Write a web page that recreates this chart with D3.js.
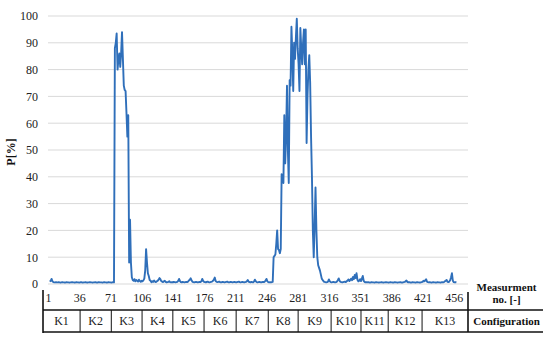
<!DOCTYPE html>
<html><head><meta charset="utf-8">
<script src="https://cdn.jsdelivr.net/npm/d3@7"></script>
<style>body{margin:0;background:#fff}svg{display:block}</style>
</head><body>
<svg id="c" width="550" height="343"></svg>
<script>
// ---- data ----
const firstMeasurement = 3;
const pValues = [
 0.9,1.2,1.9,1.0,0.7,0.6,0.6,0.7,
 0.6,0.6,0.7,0.6,0.5,0.6,0.7,0.6,0.6,0.5,
 0.6,0.7,0.6,0.6,0.5,0.6,0.6,0.7,0.6,0.6,
 0.5,0.6,0.7,0.6,0.6,0.5,0.6,0.7,0.6,0.5,
 0.6,0.6,0.7,0.6,0.5,0.6,0.6,0.7,0.6,0.6,
 0.5,0.6,0.6,0.7,0.6,0.5,0.6,0.7,0.6,0.6,
 0.6,0.5,0.6,0.7,0.6,0.6,0.5,0.6,0.7,0.6,
 0.6,0.5,0.6,0.7,0.6,
 88,90,93.5,80,84,86,81,86,94,84,
 74,72.4,72,63.8,55,63,8,24,8,2.5,
 1.5,1.2,1.8,1.0,1.5,1.2,0.9,1.6,1.1,0.8,
 1.2,1.0,1.4,2.0,5,13,8,4,3,1.5,
 1.2,0.7,1.0,0.8,1.3,0.9,0.7,1.0,1.2,1.6,
 2.2,1.8,1.1,0.9,0.7,1.0,1.2,0.8,0.6,0.7,
 0.8,1.0,0.7,0.6,0.7,0.6,0.8,0.7,0.6,0.7,
 0.8,1.2,1.9,1.1,0.7,0.6,0.8,0.7,0.6,0.7,
 0.8,0.7,0.9,1.3,1.6,2.1,1.4,0.8,0.7,0.6,
 0.7,0.8,0.7,0.6,0.7,0.8,0.7,1.0,1.9,1.2,
 0.8,0.7,0.6,0.8,0.9,0.7,0.6,0.7,0.8,0.9,
 1.2,1.6,2.4,1.1,0.8,0.7,0.8,0.9,0.7,0.6,
 0.7,0.8,0.7,0.6,0.7,0.8,0.9,0.7,0.6,0.7,
 0.8,0.7,0.6,0.7,0.8,0.7,0.6,0.7,0.8,0.9,
 0.7,0.6,0.7,0.8,0.7,0.6,0.7,0.8,1.0,1.5,
 0.9,0.7,0.6,0.8,0.7,0.6,0.9,1.6,1.0,0.7,
 0.6,0.7,0.8,0.7,0.6,0.7,0.8,0.7,0.9,1.3,
 1.9,1.0,0.7,0.6,0.7,0.6,0.7,0.8,
 10,10.5,11,15,20,13,12.7,11.5,13,41,
 39,37.7,63,45,55,74,50,37.7,76,74,
 96,86,72,90,84,92,99,88,82,72,
 95.5,88,82,90,95,82,95,52.6,70,80,
 85.4,75,55,40,20,10,22,36,20,10,
 7,6,5,3.5,2,1.5,1.0,0.8,0.7,0.6,
 0.7,0.9,1.7,1.0,0.7,0.6,0.7,0.8,0.7,0.6,
 0.7,0.9,1.4,2.1,1.2,0.8,0.7,0.6,0.7,0.8,
 0.9,0.7,1.0,1.3,1.7,1.1,1.5,2.0,1.4,2.6,
 1.8,3.4,2.2,4.0,1.6,1.0,1.2,1.8,1.1,2.0,
 3.0,1.2,0.8,0.6,0.7,0.6,0.7,0.6,0.5,0.6,
 0.7,0.6,0.6,0.5,0.6,0.7,0.6,0.6,0.5,0.6,
 0.6,0.7,0.6,0.5,0.6,0.6,0.7,0.6,0.6,0.5,
 0.6,0.7,0.6,0.6,0.5,0.6,0.7,0.6,0.6,0.5,
 0.6,0.6,0.7,0.6,0.5,0.6,0.7,0.8,1.0,1.3,
 0.8,0.6,0.7,0.6,0.5,0.6,0.7,0.6,0.6,0.5,
 0.6,0.7,0.6,0.6,0.5,0.6,0.7,0.8,1.2,1.0,
 1.3,1.8,0.9,0.7,0.6,0.7,0.6,0.5,0.6,0.7,
 0.6,0.6,0.5,0.6,0.7,0.6,0.6,0.5,0.6,0.7,
 0.6,0.7,1.0,1.2,1.5,0.8,0.7,0.9,1.4,2.5,
 4.0,1.2,0.7,0.6,0.7,0.6
];
const xTickLabels = [1,36,71,106,141,176,211,246,281,316,351,386,421,456];
const yTickLabels = [0,10,20,30,40,50,60,70,80,90,100];
const configNames = ["K1","K2","K3","K4","K5","K6","K7","K8","K9","K10","K11","K12","K13"];
const configBounds = [-4.6,37,72,106.5,141,176,212,248,281.5,318.5,352,382.5,420.5,472];
const yTitle = "P[%]";
const xTitleLines = ["Measurment","no. [-]"];
const configTitle = "Configuration";

// ---- layout ----
const svg = d3.select("#c");
const serif = "'Liberation Serif', Tinos, 'Times New Roman', 'DejaVu Serif', serif";
const x = d3.scaleLinear().domain([1,472]).range([48,468]);
const y = d3.scaleLinear().domain([0,100]).range([284,16]);
const tableTop = 290, rowMid = 310, tableBottom = 332, tableRight = 543;
const lineCol = "#2f6fba";

// gridlines
svg.append("g").selectAll("line").data(yTickLabels).join("line")
  .attr("x1", x.range()[0]).attr("x2", x.range()[1])
  .attr("y1", d=>y(d)).attr("y2", d=>y(d))
  .attr("stroke", "#d9d9d9").attr("stroke-width", 1);

// y axis labels
const yAxis = d3.axisLeft(y).tickValues(yTickLabels).tickSize(0).tickPadding(0);
const ya = svg.append("g").attr("transform", "translate(38,0)").call(yAxis);
ya.select(".domain").remove();
ya.selectAll("text").attr("font-family", serif).attr("font-size", 12).attr("fill", "#222");

// y title
svg.append("text").attr("transform", `translate(15,${(y(0)+y(100))/2 + 2}) rotate(-90)`)
  .attr("text-anchor","middle").attr("font-family", serif).attr("font-weight","bold")
  .attr("font-size", 12).attr("fill","#111").text(yTitle);

// data line
const pts = pValues.map((v,i)=>[firstMeasurement+i, v]);
svg.append("path").datum(pts)
  .attr("d", d3.line().x(d=>x(d[0])).y(d=>y(d[1])))
  .attr("fill","none").attr("stroke", lineCol).attr("stroke-width", 1.9)
  .attr("stroke-linejoin","round");

// x axis tick labels
const xAxis = d3.axisBottom(x).tickValues(xTickLabels).tickSize(0).tickPadding(0).tickFormat(d3.format("d"));
const xa = svg.append("g").attr("transform", `translate(0,${tableTop+3})`).call(xAxis);
xa.select(".domain").remove();
xa.selectAll("text").attr("font-family", serif).attr("font-size", 12).attr("fill","#222").attr("dy","0.71em");

// table lines
const tg = svg.append("g").attr("stroke","#111").attr("stroke-width",1.6);
tg.append("line").attr("x1", x(configBounds[0])).attr("x2", x(configBounds[0])).attr("y1", tableTop).attr("y2", tableBottom+1);
tg.append("line").attr("x1", x(configBounds[0])).attr("x2", tableRight).attr("y1", rowMid).attr("y2", rowMid);
tg.append("line").attr("x1", x(configBounds[0])).attr("x2", tableRight).attr("y1", tableBottom).attr("y2", tableBottom);
tg.append("line").attr("x1", x(configBounds[configBounds.length-1])).attr("x2", x(configBounds[configBounds.length-1]))
  .attr("y1", tableTop+2).attr("y2", tableBottom);
tg.selectAll("line.div").data(configBounds.slice(1,-1)).join("line").attr("class","div")
  .attr("x1", d=>x(d)).attr("x2", d=>x(d)).attr("y1", rowMid).attr("y2", tableBottom)
  .attr("stroke-width",1);

// configuration labels
svg.append("g").selectAll("text").data(configNames).join("text")
  .attr("x", (d,i)=>(x(configBounds[i])+x(configBounds[i+1]))/2)
  .attr("y", (rowMid+tableBottom)/2 + 4)
  .attr("text-anchor","middle").attr("font-family", serif).attr("font-size", 12).attr("fill","#222")
  .text(d=>d);

// right column titles
const rc = (x(configBounds[configBounds.length-1]) + tableRight)/2 + 1;
svg.append("text").attr("x", rc).attr("y", 291).attr("text-anchor","middle")
  .attr("font-family", serif).attr("font-weight","bold").attr("font-size", 11).attr("fill","#111").text(xTitleLines[0]);
svg.append("text").attr("x", rc).attr("y", 303).attr("text-anchor","middle")
  .attr("font-family", serif).attr("font-weight","bold").attr("font-size", 11).attr("fill","#111").text(xTitleLines[1]);
svg.append("text").attr("x", rc).attr("y", (rowMid+tableBottom)/2 + 4).attr("text-anchor","middle")
  .attr("font-family", serif).attr("font-weight","bold").attr("font-size", 11).attr("fill","#111").text(configTitle);
</script>
</body></html>
